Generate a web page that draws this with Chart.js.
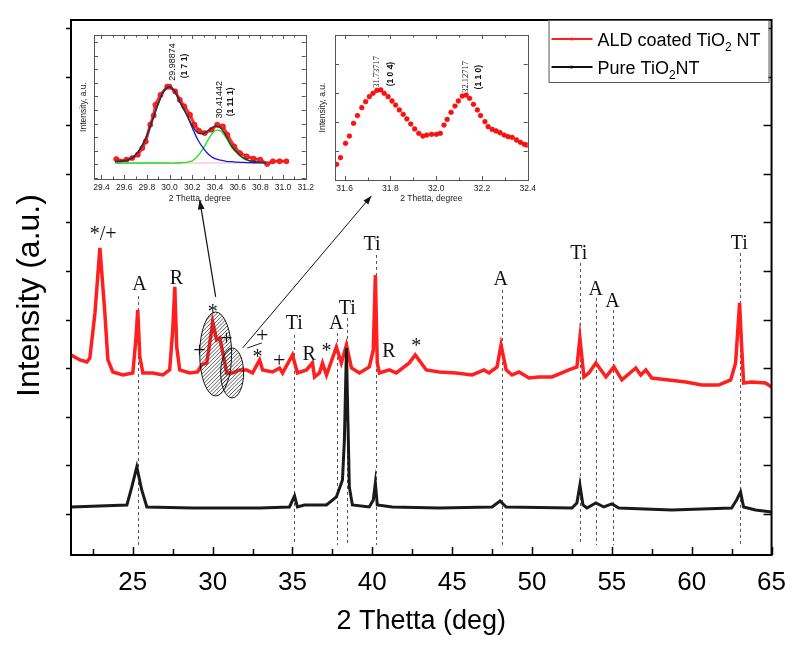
<!DOCTYPE html>
<html><head><meta charset="utf-8">
<script src="https://cdn.jsdelivr.net/npm/chart.js@4.4.0/dist/chart.umd.min.js"></script>
<style>
html,body{margin:0;padding:0;background:#fff;}
#wrap{position:relative;width:798px;height:648px;overflow:hidden;}
canvas{position:absolute;}
</style></head><body>
<div id="wrap">
<canvas id="main" width="798" height="648" style="left:0;top:0;width:798px;height:648px"></canvas>
<canvas id="in1" width="240" height="180" style="left:78px;top:30px;width:240px;height:180px"></canvas>
<canvas id="in2" width="222" height="180" style="left:318px;top:30px;width:222px;height:180px"></canvas>
</div>
<script>
// ---------------- main pattern data ----------------
const aldTheta = [21.13, 21.69, 22.13, 22.31, 22.63, 22.94, 23.25, 23.44, 23.75, 24.38,
  25.0, 25.19, 25.31, 25.44, 25.63, 26.25, 26.88, 27.31, 27.5, 27.63,
  27.75, 27.94, 28.56, 29.06, 29.31, 29.63, 29.94, 30.0, 30.25, 30.45,
  30.6, 30.88, 31.25, 31.69, 32.13, 32.5, 32.94, 33.13, 33.75, 34.19,
  34.38, 35.0, 35.31, 35.88, 36.25, 36.38, 36.69, 36.88, 37.13, 37.75,
  38.06, 38.38, 38.69, 39.19, 39.81, 40.06, 40.19, 40.31, 40.44, 41.06,
  41.5, 42.31, 42.69, 43.38, 44.19, 45.25, 46.25, 47.0, 47.31, 47.81,
  48.06, 48.38, 48.75, 49.19, 49.81, 50.44, 51.25, 52.31, 52.81, 53.0,
  53.25, 53.56, 54.0, 54.63, 55.13, 55.63, 56.5, 56.81, 57.13, 57.5,
  58.56, 59.63, 60.63, 61.69, 62.44, 62.75, 63.0, 63.13, 63.25, 63.75,
  64.63, 65.0];
const aldIntensity = [1636, 1585, 1564, 1605, 2068, 2737, 2068, 1585, 1461, 1430,
  1451, 1790, 2099, 1616, 1451, 1451, 1430, 1482, 1893, 2336,
  1718, 1482, 1451, 1461, 1533, 1554, 1893, 1976, 1790, 1811,
  1688, 1451, 1451, 1482, 1482, 1451, 1585, 1482, 1461, 1502,
  1451, 1636, 1451, 1482, 1554, 1410, 1451, 1554, 1430, 1718,
  1554, 1739, 1502, 1451, 1513, 1688, 2459, 1554, 1451, 1482,
  1451, 1554, 1636, 1482, 1461, 1451, 1430, 1482, 1451, 1513,
  1739, 1482, 1430, 1461, 1399, 1410, 1410, 1482, 1513, 1811,
  1410, 1451, 1554, 1410, 1513, 1379, 1502, 1430, 1482, 1399,
  1379, 1358, 1327, 1327, 1379, 1554, 2171, 1718, 1348, 1358,
  1348, 1307];

const pureTheta = [21.13, 24.63, 24.94, 25.25, 25.56, 25.88, 28.75, 32.94, 34.81, 35.13,
  35.31, 35.75, 37.13, 37.75, 38.13, 38.25, 38.38, 38.47, 38.56, 38.75,
  39.81, 40.06, 40.19, 40.31, 41.25, 44.19, 47.5, 48.0, 48.38, 52.5,
  52.81, 53.0, 53.19, 53.44, 54.0, 54.5, 55.0, 55.44, 58.75, 62.5,
  62.81, 63.06, 63.25, 64.0, 65.0];
const pureIntensity = [72, 93, 278, 484, 247, 72, 62, 62, 72, 185,
  72, 93, 93, 175, 350, 761, 1708, 967, 278, 93,
  72, 144, 319, 93, 72, 62, 72, 134, 72, 62,
  113, 298, 93, 62, 113, 72, 103, 62, 41, 62,
  144, 226, 72, 41, 21];

const xMajorTicks = [25, 30, 35, 40, 45, 50, 55, 60, 65];
const xMinorTicks = [22.5, 27.5, 32.5, 37.5, 42.5, 47.5, 52.5, 57.5, 62.5];
const yTickValues = [0, 500, 1000, 1500, 2000, 2500, 3000, 3500, 4000, 4500, 5000];

// phase labels
const peakLabelText  = ['*/+', 'A', 'R', '*', '+', '+', '+', '/', '*', '+', 'Ti', 'R', '*', 'A', 'Ti', 'Ti', 'R', '*', 'A', 'Ti', 'A', 'A', 'Ti'];
const peakLabelTheta = [23.13, 25.44, 27.75, 30.0, 29.19, 30.88, 33.13, 32.63, 32.81, 34.19, 35.13, 36.06, 37.13, 37.75, 38.44, 40.0, 41.06, 42.75, 48.06, 52.94, 54.0, 55.06, 63.0];
const peakLabelLevel = [2891, 2377, 2439, 2120, 1688, 1811, 1842, 1729, 1657, 1585, 1976, 1657, 1718, 1976, 2130, 2789, 1688, 1770, 2428, 2696, 2326, 2202, 2799];
// dashed reference lines
const refLineTheta = [25.3, 35.1, 37.8, 38.4, 40.2, 48.1, 53.0, 54.0, 55.1, 63.0];
const refLineTop   = [2243, 1842, 1862, 2017, 2665, 2305, 2583, 2223, 2099, 2686];
const refLineBottom = -319;

// ---------------- inset 1 data ----------------
const in1RedTheta = [29.53, 29.56, 29.62, 29.67, 29.72, 29.76, 29.79, 29.83, 29.86, 29.875,
  29.92, 29.98, 30.0, 30.05, 30.09, 30.13, 30.18, 30.22, 30.26, 30.31,
  30.37, 30.42, 30.47, 30.51, 30.57, 30.62, 30.68, 30.74, 30.80, 30.86,
  30.91, 30.97, 31.03];
const in1RedValue = [2.8, 1.2, 2.3, 3.5, 5.8, 10.4, 15, 26.6, 33, 40.4,
  47.3, 53.1, 53, 49.7, 43.9, 39.3, 33.5, 26.6, 22.4, 20.8,
  23.1, 26.6, 25.4, 19.6, 11.5, 6.9, 4.6, 3, 2.3, -0.7,
  1.2, 1.2, 1.2];
const in1FitTheta = [29.52, 29.6, 29.65, 29.7, 29.75, 29.8, 29.85, 29.9, 29.95, 30.0,
  30.05, 30.1, 30.15, 30.2, 30.25, 30.3, 30.35, 30.4, 30.45, 30.5,
  30.55, 30.6, 30.65, 30.7, 30.8, 30.85];
const in1FitSum = [1.0, 1.5, 2.5, 5.5, 11, 19, 30, 41, 50, 53,
  49, 41, 34, 26, 21, 20.5, 23, 25.5, 24.3, 18.5,
  11.5, 7, 3.5, 1.8, 0.5, 0.2];
const in1Peak1 = [1.0, 1.5, 2.5, 5.5, 11, 19, 30, 41, 50, 53,
  49, 40.8, 33.5, 24.5, 16, 10, 5.5, 3, 2.0, 1.2,
  0.9, 0.6, 0.4, 0.3, 0.1, 0];
const in1Peak2 = [0, 0, 0, 0, 0, 0, 0, 0, 0, 0,
  0, 0.2, 0.5, 1.5, 5, 10.5, 17.5, 22.5, 22.3, 17.3,
  10.6, 6.4, 3.1, 1.5, 0.4, 0.2];
const in1BaseTheta = [29.52, 30.85];
const in1BaseValue = [0, 0];
const in1XLabels = ['29.4', '29.6', '29.8', '30.0', '30.2', '30.4', '30.6', '30.8', '31.0', '31.2'];
const in1XMinor = [29.5, 29.7, 29.9, 30.1, 30.3, 30.5, 30.7, 30.9, 31.1];
const in1YTicks = [-10.4, -0.95, 8.5, 17.95, 27.4, 36.85, 46.3, 55.75, 65.2, 74.65, 84.1];
const in1Notes = [
  {text: '29.98874', t: 30.02, v: 70.2, bold: false},
  {text: '(1 7 1)', t: 30.135, v: 67.4, bold: true},
  {text: '30.41442', t: 30.437, v: 43.9, bold: false},
  {text: '(1 11 1)', t: 30.54, v: 42.5, bold: true}
];

// ---------------- inset 2 data ----------------
const in2Theta = [31.565, 31.582, 31.604, 31.621, 31.639, 31.656, 31.675, 31.692, 31.708, 31.724,
  31.741, 31.758, 31.773, 31.790, 31.807, 31.823, 31.839, 31.856, 31.872, 31.889,
  31.906, 31.924, 31.942, 31.959, 31.980, 32.001, 32.018, 32.034, 32.048, 32.065,
  32.082, 32.097, 32.114, 32.131, 32.146, 32.163, 32.180, 32.194, 32.213, 32.227,
  32.245, 32.262, 32.279, 32.297, 32.314, 32.332, 32.351, 32.368, 32.385, 32.396];
const in2Value = [10.8, 15.4, 25.3, 30.3, 39.1, 44.4, 49.9, 54.0, 57.5, 59.8,
  61.8, 62.1, 59.8, 57.5, 54.5, 51.7, 48.3, 45.3, 42.1, 38.6,
  35.2, 32.2, 30.3, 31.0, 31.5, 31.5, 32.2, 37.9, 41.8, 46.7,
  51.0, 54.5, 57.9, 58.6, 56.3, 52.2, 48.3, 44.4, 40.2, 36.8,
  34.9, 33.8, 32.6, 31.0, 29.9, 29.4, 27.6, 26.0, 24.6, 24.1];
const in2XLabels = ['31.6', '31.8', '32.0', '32.2', '32.4'];
const in2XMinor = [31.7, 31.9, 32.1, 32.3];
const in2YTicks = [0, 20, 40, 60, 80, 100];
const in2Notes = [
  {text: '31.73717', t: 31.736, v: 74.5, bold: false},
  {text: '(1 0 4)', t: 31.80, v: 73.1, bold: true},
  {text: '32.12717', t: 32.125, v: 71, bold: false},
  {text: '(1 1 0)', t: 32.185, v: 71, bold: true}
];

// ---------------- helpers ----------------
const SANS = 'Liberation Sans';
const SERIF = 'Liberation Serif';
function pts(xs, ys) { return xs.map((x, i) => ({x: x, y: ys[i]})); }
function drawCentered(ctx, text, cx, cy) {
  ctx.textAlign = 'left';
  ctx.textBaseline = 'alphabetic';
  const m = ctx.measureText(text);
  const l = m.actualBoundingBoxLeft, r = m.actualBoundingBoxRight;
  const a = m.actualBoundingBoxAscent, d = m.actualBoundingBoxDescent;
  ctx.fillText(text, cx - (r - l) / 2, cy + (a - d) / 2);
}
function arrow(ctx, x1, y1, x2, y2, size) {
  ctx.beginPath(); ctx.moveTo(x1, y1); ctx.lineTo(x2, y2); ctx.stroke();
  const ang = Math.atan2(y2 - y1, x2 - x1);
  ctx.beginPath();
  ctx.moveTo(x2, y2);
  ctx.lineTo(x2 - size * Math.cos(ang - 0.35), y2 - size * Math.sin(ang - 0.35));
  ctx.lineTo(x2 - size * Math.cos(ang + 0.35), y2 - size * Math.sin(ang + 0.35));
  ctx.closePath(); ctx.fill();
}
function hatchEllipse(ctx, cx, cy, rx, ry) {
  ctx.save();
  ctx.beginPath(); ctx.ellipse(cx, cy, rx, ry, 0, 0, Math.PI * 2); ctx.clip();
  ctx.strokeStyle = '#333'; ctx.lineWidth = 0.8;
  for (let k = -2 * ry; k < 2 * rx + 2 * ry; k += 3.8) {
    ctx.beginPath();
    ctx.moveTo(cx - rx + k - 2 * ry, cy + ry);
    ctx.lineTo(cx - rx + k, cy - ry);
    ctx.stroke();
  }
  ctx.restore();
  ctx.beginPath(); ctx.ellipse(cx, cy, rx, ry, 0, 0, Math.PI * 2);
  ctx.strokeStyle = '#111'; ctx.lineWidth = 1; ctx.stroke();
}

// ---------------- main chart decorations ----------------
const mainDecor = {
  id: 'mainDecor',
  beforeDatasetsDraw(chart) {
    const {ctx, scales: {x, y}} = chart;
    ctx.save();
    ctx.strokeStyle = '#555'; ctx.lineWidth = 1; ctx.setLineDash([3, 3]);
    refLineTheta.forEach((t, i) => {
      const px = Math.round(x.getPixelForValue(t)) + 0.5;
      ctx.beginPath();
      ctx.moveTo(px, y.getPixelForValue(refLineTop[i]));
      ctx.lineTo(px, y.getPixelForValue(refLineBottom));
      ctx.stroke();
    });
    ctx.restore();
  },
  afterDatasetsDraw(chart) {
    const {ctx, scales: {x, y}} = chart;
    ctx.save();
    // hatched ellipses
    const ellipses = [[30.19, 1646, 1.0, 432], [31.22, 1451, 0.72, 257]];
    ellipses.forEach(e => {
      const cx = x.getPixelForValue(e[0]), cy = y.getPixelForValue(e[1]);
      const rx = Math.abs(x.getPixelForValue(e[0] + e[2]) - cx);
      const ry = Math.abs(y.getPixelForValue(e[1] + e[3]) - cy);
      hatchEllipse(ctx, cx, cy, rx, ry);
    });
    // arrows to insets
    ctx.strokeStyle = '#111'; ctx.fillStyle = '#111'; ctx.lineWidth = 1.2;
    arrow(ctx, x.getPixelForValue(30.19), y.getPixelForValue(2233), x.getPixelForValue(29.19), y.getPixelForValue(3231), 10);
    ctx.lineWidth = 1;
    arrow(ctx, x.getPixelForValue(31.88), y.getPixelForValue(1708), x.getPixelForValue(39.94), y.getPixelForValue(3272), 9);
    // phase labels
    ctx.fillStyle = '#111';
    peakLabelText.forEach((txt, i) => {
      const px = x.getPixelForValue(peakLabelTheta[i]);
      const py = y.getPixelForValue(peakLabelLevel[i]);
      const size = (txt === '+' || txt === '/') ? 22 : 20;
      ctx.font = size + 'px "' + SERIF + '"';
      if (txt === '/') {
        ctx.save(); ctx.translate(px, py); ctx.rotate(0.9);
        drawCentered(ctx, txt, 0, 0); ctx.restore();
      } else {
        drawCentered(ctx, txt, px, py);
      }
    });
    ctx.restore();
  },
  afterDraw(chart) {
    const {ctx, chartArea: ca, scales: {x, y}} = chart;
    ctx.save();
    ctx.strokeStyle = '#000'; ctx.lineWidth = 1.5;
    x.ticks.forEach(tk => {
      const px = Math.round(x.getPixelForValue(tk.value)) + 0.5;
      const len = xMajorTicks.includes(tk.value) ? 8 : 6;
      ctx.beginPath(); ctx.moveTo(px, ca.bottom); ctx.lineTo(px, ca.bottom - len); ctx.stroke();
    });
    y.ticks.forEach(tk => {
      const py = Math.round(y.getPixelForValue(tk.value)) + 0.5;
      ctx.beginPath(); ctx.moveTo(ca.left - 5, py); ctx.lineTo(ca.left, py); ctx.stroke();
      ctx.beginPath(); ctx.moveTo(ca.right, py); ctx.lineTo(ca.right - 8, py); ctx.stroke();
    });
    ctx.lineWidth = 2;
    ctx.strokeRect(ca.left, ca.top, ca.right - ca.left, ca.bottom - ca.top);
    // legend box
    const bx = ca.right - 223, by = ca.top, bw = 220, bh = 62;
    ctx.fillStyle = '#fff';
    ctx.fillRect(bx, by, bw, bh);
    ctx.lineWidth = 1; ctx.strokeStyle = '#555';
    ctx.strokeRect(bx + 0.5, by + 0.5, bw, bh);
    const entries = [
      {color: '#ff1f1f', y: by + 19, parts: ['ALD coated TiO', '2', ' NT']},
      {color: '#111', y: by + 47, parts: ['Pure TiO', '2', 'NT']}
    ];
    entries.forEach(en => {
      ctx.strokeStyle = en.color; ctx.lineWidth = 2;
      ctx.beginPath(); ctx.moveTo(bx + 3, en.y); ctx.lineTo(bx + 44, en.y); ctx.stroke();
      ctx.fillStyle = en.color;
      ctx.beginPath(); ctx.arc(bx + 23, en.y, 1.6, 0, Math.PI * 2); ctx.fill();
      ctx.fillStyle = '#000'; ctx.textAlign = 'left'; ctx.textBaseline = 'alphabetic';
      let tx = bx + 49; const base = en.y + 6.5;
      ctx.font = '18px "' + SANS + '"';
      ctx.fillText(en.parts[0], tx, base); tx += ctx.measureText(en.parts[0]).width;
      ctx.font = '12px "' + SANS + '"';
      ctx.fillText(en.parts[1], tx, base + 5); tx += ctx.measureText(en.parts[1]).width;
      ctx.font = '18px "' + SANS + '"';
      ctx.fillText(en.parts[2], tx, base);
    });
    ctx.restore();
  }
};

new Chart(document.getElementById('main'), {
  type: 'line',
  data: {
    datasets: [
      {label: 'ALD coated TiO₂ NT', data: pts(aldTheta, aldIntensity), borderColor: '#ff1f1f',
        borderWidth: 3.5, pointRadius: 0, tension: 0, order: 1},
      {label: 'Pure TiO₂NT', data: pts(pureTheta, pureIntensity), borderColor: '#1a1a1a',
        borderWidth: 3, pointRadius: 0, tension: 0, order: 0}
    ]
  },
  options: {
    responsive: false, animation: false, devicePixelRatio: 1,
    layout: {padding: {top: 20, right: 25, left: 0, bottom: 0}},
    plugins: {legend: {display: false}, tooltip: {enabled: false}},
    scales: {
      x: {
        type: 'linear', min: 21.13, max: 65,
        grid: {display: false, drawTicks: false}, border: {display: false},
        afterBuildTicks: s => { s.ticks = xMinorTicks.concat(xMajorTicks).sort((a, b) => a - b).map(v => ({value: v})); },
        afterFit: s => { s.height = 93; },
        ticks: {padding: 12, color: '#000', autoSkip: false, maxRotation: 0,
          font: {family: SANS, size: 26},
          callback: v => xMajorTicks.includes(v) ? String(v) : ''},
        title: {display: true, text: '2 Thetta (deg)', color: '#000',
          font: {family: SANS, size: 27}, padding: {top: 0, bottom: 10}}
      },
      y: {
        type: 'linear', min: -422, max: 5082,
        grid: {display: false, drawTicks: false}, border: {display: false},
        afterBuildTicks: s => { s.ticks = yTickValues.map(v => ({value: v})); },
        afterFit: s => { s.width = 71; },
        ticks: {display: false},
        title: {display: true, text: 'Intensity (a.u.)\u2002', color: '#000',
          font: {family: SANS, size: 32}, padding: {top: 11, bottom: 0}}
      }
    }
  },
  plugins: [mainDecor]
});

// ---------------- inset decorations ----------------
function insetDecor(xLabels, xMinor, notes, numberFont) {
  return {
    id: 'insetDecor',
    afterDraw(chart) {
      const {ctx, chartArea: ca, scales: {x, y}} = chart;
      ctx.save();
      ctx.strokeStyle = '#555'; ctx.lineWidth = 1;
      ctx.strokeRect(Math.round(ca.left) + 0.5, Math.round(ca.top) + 0.5, Math.round(ca.right - ca.left), Math.round(ca.bottom - ca.top));
      const majors = xLabels.map(parseFloat);
      majors.concat(xMinor).forEach(v => {
        const px = Math.round(x.getPixelForValue(v)) + 0.5;
        const len = majors.includes(v) ? 4 : 2.5;
        ctx.beginPath(); ctx.moveTo(px, ca.bottom); ctx.lineTo(px, ca.bottom - len); ctx.stroke();
        ctx.beginPath(); ctx.moveTo(px, ca.top); ctx.lineTo(px, ca.top + len); ctx.stroke();
      });
      y.ticks.forEach(tk => {
        const py = Math.round(y.getPixelForValue(tk.value)) + 0.5;
        ctx.beginPath(); ctx.moveTo(ca.left, py); ctx.lineTo(ca.left + 4, py); ctx.stroke();
        ctx.beginPath(); ctx.moveTo(ca.right, py); ctx.lineTo(ca.right - 4, py); ctx.stroke();
      });
      ctx.fillStyle = '#111';
      notes.forEach(n => {
        const px = x.getPixelForValue(n.t), py = y.getPixelForValue(n.v);
        ctx.save(); ctx.translate(px, py); ctx.rotate(-Math.PI / 2);
        ctx.font = n.bold ? 'bold 8.5px "' + SANS + '"' : numberFont;
        drawCentered(ctx, n.text, 0, 0);
        ctx.restore();
      });
      ctx.restore();
    }
  };
}
function insetScales(xmin, xmax, xLabels, xMinor, ymin, ymax, yTicks, yWidth, xHeight, yTitlePad) {
  const majors = xLabels.map(parseFloat);
  return {
    x: {
      type: 'linear', min: xmin, max: xmax,
      grid: {display: false, drawTicks: false}, border: {display: false},
      afterBuildTicks: s => { s.ticks = majors.map(v => ({value: v})); },
      afterFit: s => { s.height = xHeight; },
      ticks: {padding: 4, color: '#222', autoSkip: false, maxRotation: 0,
        font: {family: SANS, size: 8.5},
        callback: (v) => { const i = majors.findIndex(m => Math.abs(m - v) < 1e-6); return i >= 0 ? xLabels[i] : ''; }},
      title: {display: true, text: '2 Thetta, degree', color: '#222',
        font: {family: SANS, size: 8.5}, padding: {top: 0, bottom: 6}}
    },
    y: {
      type: 'linear', min: ymin, max: ymax,
      grid: {display: false, drawTicks: false}, border: {display: false},
      afterBuildTicks: s => { s.ticks = yTicks.map(v => ({value: v})); },
      afterFit: s => { s.width = yWidth; },
      ticks: {display: false},
      title: {display: true, text: 'Intensity, a.u.', color: '#222',
        font: {family: SANS, size: 8.5}, padding: {top: yTitlePad, bottom: 0}}
    }
  };
}

new Chart(document.getElementById('in1'), {
  type: 'scatter',
  data: {
    datasets: [
      {label: 'Experimental', data: pts(in1RedTheta, in1RedValue), showLine: true, borderColor: '#ff3030',
        borderWidth: 3, pointRadius: 2.6, pointBackgroundColor: '#ff2020', pointBorderColor: '#d00000',
        pointBorderWidth: 0.5, order: 5},
      {label: 'Baseline', data: pts(in1BaseTheta, in1BaseValue), showLine: true, borderColor: '#ffb3c1',
        borderWidth: 1, pointRadius: 0, order: 4},
      {label: 'Peak 2', data: pts(in1FitTheta, in1Peak2), showLine: true, borderColor: '#22dd22',
        borderWidth: 1.3, pointRadius: 0, tension: 0.3, order: 3},
      {label: 'Peak 1', data: pts(in1FitTheta, in1Peak1), showLine: true, borderColor: '#1414e6',
        borderWidth: 1.3, pointRadius: 0, tension: 0.3, order: 2},
      {label: 'Fit', data: pts(in1FitTheta, in1FitSum), showLine: true, borderColor: '#333',
        borderWidth: 1.5, pointRadius: 0, tension: 0.3, order: 1}
    ]
  },
  options: {
    responsive: false, animation: false, devicePixelRatio: 1,
    layout: {padding: {top: 5, right: 8, left: 0, bottom: 0}},
    plugins: {legend: {display: false}, tooltip: {enabled: false}},
    scales: insetScales(29.334, 31.2, in1XLabels, in1XMinor, -11.1, 88.9, in1YTicks, 16, 31, 1)
  },
  plugins: [insetDecor(in1XLabels, in1XMinor, in1Notes, '9px "' + SANS + '"')]
});

new Chart(document.getElementById('in2'), {
  type: 'scatter',
  data: {
    datasets: [
      {label: 'Experimental', data: pts(in2Theta, in2Value), showLine: false,
        pointRadius: 2.4, pointBackgroundColor: '#ff1010', pointBorderColor: '#e00000', pointBorderWidth: 0.5}
    ]
  },
  options: {
    responsive: false, animation: false, devicePixelRatio: 1,
    layout: {padding: {top: 5, right: 6, left: 0, bottom: 0}},
    plugins: {legend: {display: false}, tooltip: {enabled: false}},
    scales: insetScales(31.558, 32.4, in2XLabels, in2XMinor, 0, 100, in2YTicks, 17, 30, 0)
  },
  plugins: [insetDecor(in2XLabels, in2XMinor, in2Notes, '8.5px "' + SERIF + '"')]
});
</script>
</body></html>
